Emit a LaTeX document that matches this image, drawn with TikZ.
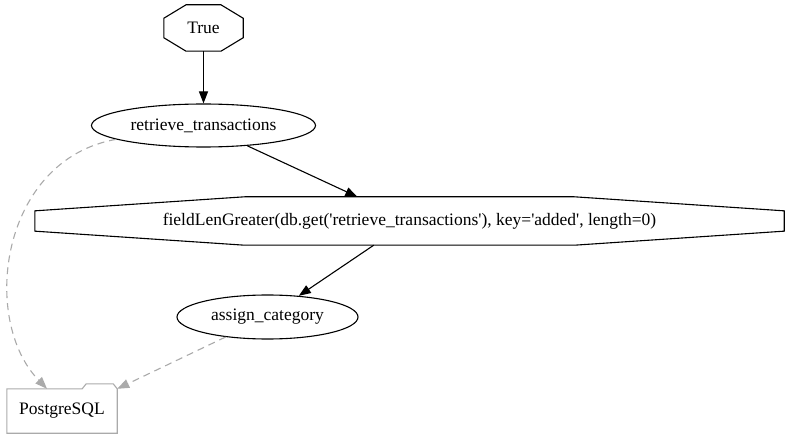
\documentclass[tikz,border=0pt]{standalone}
\usepackage{fontspec}
\setmainfont{Liberation Serif}
\usetikzlibrary{arrows.meta, calc, shapes.geometric}
\definecolor{cline}{RGB}{0, 0, 0}
\definecolor{cstore}{RGB}{170, 170, 170}
\tikzset{
  octa/.style={rectangle, inner sep=0pt, font=\fontsize{17.5}{20}\selectfont},
  oval/.style={draw=cline, ellipse, line width=1.1pt, inner sep=0pt,
               font=\fontsize{17.5}{20}\selectfont},
  store/.style={rectangle, inner sep=0pt, font=\fontsize{17.5}{20}\selectfont},
  arr/.style={-{Triangle[length=12pt, width=9pt]}, line width=1.1pt, draw=cline},
  dep/.style={-{Triangle[length=12pt, width=9pt]}, line width=1.1pt, draw=cstore,
              fill=none, dash pattern=on 7pt off 5pt},
}
\newcommand\sq{\textquotesingle}
% octagon drawn round a rectangular node
\newcommand\octaround[1]{%
  \draw[line width=1.1pt, draw=cline]
    ($(#1.north west)!.28!(#1.north east)$) -- ($(#1.north west)!.72!(#1.north east)$)
    -- ($(#1.north east)!.29!(#1.south east)$) -- ($(#1.north east)!.71!(#1.south east)$)
    -- ($(#1.south west)!.72!(#1.south east)$) -- ($(#1.south west)!.28!(#1.south east)$)
    -- ($(#1.north west)!.71!(#1.south west)$) -- ($(#1.north west)!.29!(#1.south west)$)
    -- cycle;}
% folder drawn round a rectangular node
\newcommand\folderround[1]{%
  \draw[line width=1.1pt, draw=cstore]
    (#1.north west) -- ($(#1.north east)+(-35,0)$) -- ++(4,-5)
    -- ($(#1.north east)+(-4,-5)$) -- (#1.north east)
    -- (#1.south east) -- (#1.south west) -- cycle;}

\begin{document}
\begin{tikzpicture}[x=1pt, y=-1pt]
\useasboundingbox (0,0) rectangle (791,443);

% ---------- nodes ----------
\node[octa, minimum width=79pt, minimum height=46pt] (true) at (203.5,28) {True};
\node[oval, minimum width=224pt, minimum height=43pt] (ret) at (203.5,125.5) {retrieve\_transactions};
\node[octa, minimum width=749pt, minimum height=48pt] (cond) at (409.5,221)
  {fieldLenGreater(db.get(\sq retrieve\_transactions\sq), key=\sq added\sq, length=0)};
\node[oval, minimum width=181pt, minimum height=44pt] (cat) at (267.5,317) {assign\_category};
\node[store, minimum width=110pt, minimum height=44pt] (pg) at (62,411) {PostgreSQL};

\octaround{true}
\octaround{cond}
\folderround{pg}

% ---------- flow ----------
\draw[arr] (true) -- (ret);
\draw[arr] (ret) -- (cond);
\draw[arr] (cond) -- (cat);

% ---------- storage ----------
\draw[dep] (ret.189) .. controls (0,160) and (-20,320) .. (pg.124);
\draw[dep] (cat) -- (pg.north east);

\end{tikzpicture}
\end{document}
